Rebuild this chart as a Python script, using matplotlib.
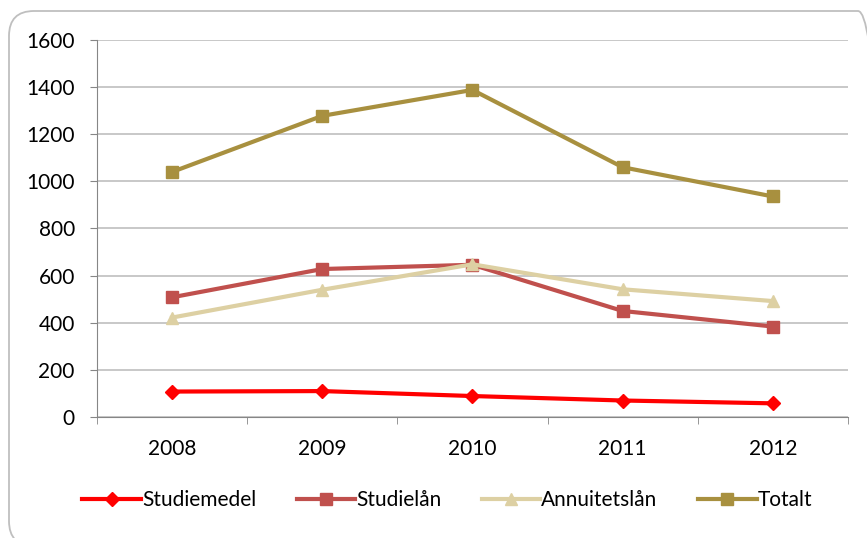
import matplotlib.pyplot as plt
from matplotlib.patches import FancyBboxPatch

years = ['2008', '2009', '2010', '2011', '2012']
studiemedel = [108, 110, 89, 70, 58]
studielan = [508, 628, 646, 450, 384]
annuitetslan = [422, 540, 648, 542, 492]
totalt = [1040, 1278, 1388, 1060, 936]

plt.rcParams['font.family'] = ['Lato', 'DejaVu Sans']

fig = plt.figure(figsize=(8.67, 5.38), dpi=100)
ax = fig.add_axes([0.1119, 0.2249, 0.866, 0.7008])

# rounded chart frame (in inches so the corners stay circular)
frame = FancyBboxPatch((0.09, -0.08), 8.74, 5.35, boxstyle='round,pad=0,rounding_size=0.25',
                       transform=fig.dpi_scale_trans, facecolor='none', edgecolor='#bfbfbf',
                       linewidth=1.3)
fig.patches.append(frame)

x = range(len(years))
ax.plot(x, studiemedel, color='#ff0000', marker='D', markersize=7, linewidth=3, label='Studiemedel')
ax.plot(x, studielan, color='#c0504d', marker='s', markersize=8, linewidth=3, label='Studielån')
ax.plot(x, annuitetslan, color='#ddd0a3', marker='^', markersize=9, linewidth=3, label='Annuitetslån')
ax.plot(x, totalt, color='#a8903f', marker='s', markersize=8, linewidth=3, label='Totalt')

ax.set_xlim(-0.5, 4.5)
ax.set_ylim(0, 1600)
ax.set_yticks(range(0, 1601, 200))
ax.set_xticks(x)
ax.set_xticklabels(years)
ax.set_xticks([i - 0.5 for i in range(6)], minor=True)
ax.tick_params(axis='x', which='major', length=0, pad=16, labelsize=15)
ax.tick_params(axis='x', which='minor', length=5, color='#868686', direction='out')
ax.tick_params(axis='y', length=5, color='#868686', labelsize=15, pad=11)
ax.yaxis.grid(True, color='#bfbfbf', linewidth=1.2)
ax.set_axisbelow(True)
for side in ['top', 'right']:
    ax.spines[side].set_visible(False)
for side in ['left', 'bottom']:
    ax.spines[side].set_color('#868686')

fig.legend(loc='center', bbox_to_anchor=(0.516, 0.07), ncol=4, frameon=False, fontsize=15,
           handlelength=2.8, handletextpad=0.05, columnspacing=1.95)

fig.savefig('out.png', dpi=100)
